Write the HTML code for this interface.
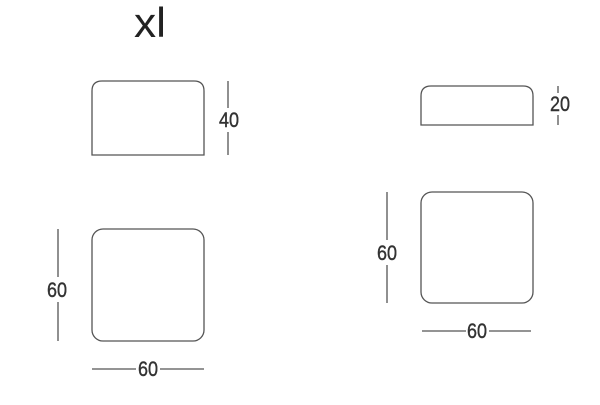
<!DOCTYPE html>
<html><head><style>body{margin:0;background:#fff}</style></head><body>
<svg width="600" height="400" xmlns="http://www.w3.org/2000/svg" font-family="Liberation Sans, sans-serif" fill="none" stroke="#555" stroke-width="1.3">
<text x="150" y="37" font-size="42" fill="#222" stroke="none" text-anchor="middle" textLength="32" lengthAdjust="spacingAndGlyphs">xl</text>
<g font-size="21" fill="#333" stroke="#333" stroke-width="0.4" text-anchor="middle">
<text x="229" y="127" textLength="20" lengthAdjust="spacingAndGlyphs">40</text>
<text x="57" y="297" textLength="20" lengthAdjust="spacingAndGlyphs">60</text>
<text x="148" y="376" textLength="20" lengthAdjust="spacingAndGlyphs">60</text>
<text x="560" y="111" textLength="20" lengthAdjust="spacingAndGlyphs">20</text>
<text x="387" y="260" textLength="20" lengthAdjust="spacingAndGlyphs">60</text>
<text x="477" y="338" textLength="20" lengthAdjust="spacingAndGlyphs">60</text>
</g>
<path d="M92 155 V91 Q92 81 102 81 H194 Q204 81 204 91 V155 Z"/>
<line x1="228" y1="81" x2="228" y2="108"/><line x1="228" y1="132" x2="228" y2="155"/>
<rect x="92" y="229" width="112" height="112" rx="11"/>
<line x1="58" y1="229" x2="58" y2="277"/><line x1="58" y1="302" x2="58" y2="341"/>
<line x1="92" y1="369" x2="136" y2="369"/><line x1="160" y1="369" x2="204" y2="369"/>
<path d="M421 125 V96 Q421 86 431 86 H523 Q533 86 533 96 V125 Z"/>
<line x1="558" y1="86" x2="558" y2="93"/><line x1="558" y1="115" x2="558" y2="125"/>
<rect x="421" y="192" width="112" height="111" rx="11"/>
<line x1="387" y1="192" x2="387" y2="240"/><line x1="387" y1="265" x2="387" y2="303"/>
<line x1="422" y1="331" x2="466" y2="331"/><line x1="489" y1="331" x2="531" y2="331"/>
</svg>
</body></html>
